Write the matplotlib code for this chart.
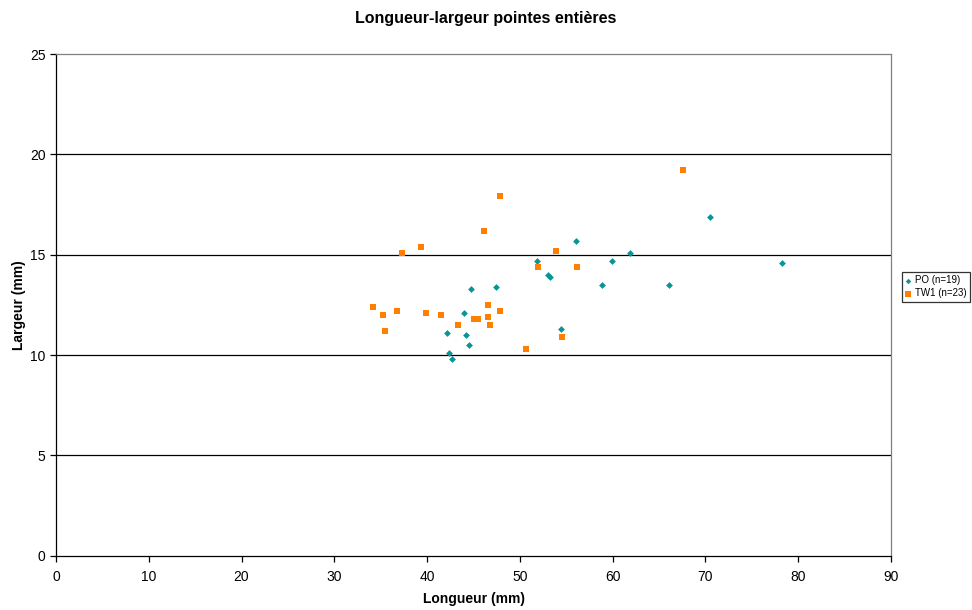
import matplotlib
matplotlib.use("Agg")
import matplotlib.pyplot as plt

plt.rcParams['font.family'] = ['Liberation Sans', 'DejaVu Sans']

# PO points (longueur, largeur in mm)
po_longueur = [56.0, 51.8, 53.0, 53.2, 44.7, 47.4, 44.0, 42.1, 44.2, 44.5,
               42.4, 42.7, 54.4, 70.5, 61.9, 59.9, 58.8, 66.1, 78.3]
po_largeur = [15.7, 14.7, 14.0, 13.9, 13.3, 13.4, 12.1, 11.1, 11.0, 10.5,
              10.1, 9.8, 11.3, 16.9, 15.1, 14.7, 13.5, 13.5, 14.6]

# TW1 points
tw1_longueur = [47.9, 46.1, 39.3, 37.3, 53.9, 51.9, 56.2, 34.2, 35.2, 36.8,
                35.5, 39.9, 41.5, 43.3, 45.0, 45.5, 46.6, 46.6, 46.8, 47.9,
                50.7, 54.5, 67.6]
tw1_largeur = [17.9, 16.2, 15.4, 15.1, 15.2, 14.4, 14.4, 12.4, 12.0, 12.2,
               11.2, 12.1, 12.0, 11.5, 11.8, 11.8, 12.5, 11.9, 11.5, 12.2,
               10.3, 10.9, 19.2]

series_labels = ['PO (n=19)', 'TW1 (n=23)']
x_ticks = [0, 10, 20, 30, 40, 50, 60, 70, 80, 90]
y_ticks = [0, 5, 10, 15, 20, 25]

fig = plt.figure(figsize=(9.72, 6.10), dpi=100)
ax = fig.add_axes([56 / 972, 1 - 555.7 / 610, (891 - 56) / 972, (555.7 - 54) / 610])

ax.set_xlim(0, 90)
ax.set_ylim(0, 25)
ax.set_xticks(x_ticks)
ax.set_yticks(y_ticks)

for y in y_ticks[1:-1]:
    ax.axhline(y, color='black', linewidth=0.9, zorder=1)

ax.scatter(po_longueur, po_largeur, marker='D', s=12, color='#0A9494',
           linewidths=0, zorder=3, label=series_labels[0])
ax.scatter(tw1_longueur, tw1_largeur, marker='s', s=24, color='#FF8000',
           linewidths=0, zorder=3, label=series_labels[1])

ax.spines['left'].set_color('black')
ax.spines['bottom'].set_color('black')
ax.spines['top'].set_color('#808080')
ax.spines['right'].set_color('#808080')
for s in ax.spines.values():
    s.set_linewidth(0.9)

ax.tick_params(axis='both', direction='out', length=4, width=0.9,
               labelsize=10, colors='black')
ax.tick_params(axis='x', pad=6)

ax.set_xlabel('Longueur (mm)', fontsize=10, fontweight='bold', labelpad=6)
ax.set_ylabel('Largeur (mm)', fontsize=10, fontweight='bold', labelpad=3)
fig.text(0.5, 1 - 18 / 610, 'Longueur-largeur pointes entières',
         ha='center', va='center', fontsize=11.5, fontweight='bold')

leg = fig.legend(loc='upper left', bbox_to_anchor=(902 / 972, 1 - 272 / 610),
                 fontsize=7, frameon=True, fancybox=False, handlelength=0.6,
                 handletextpad=0.4, borderpad=0.35, labelspacing=0.3,
                 borderaxespad=0, markerscale=0.8)
leg.get_frame().set_edgecolor('black')
leg.get_frame().set_linewidth(0.9)

fig.savefig('out.png', dpi=100)
